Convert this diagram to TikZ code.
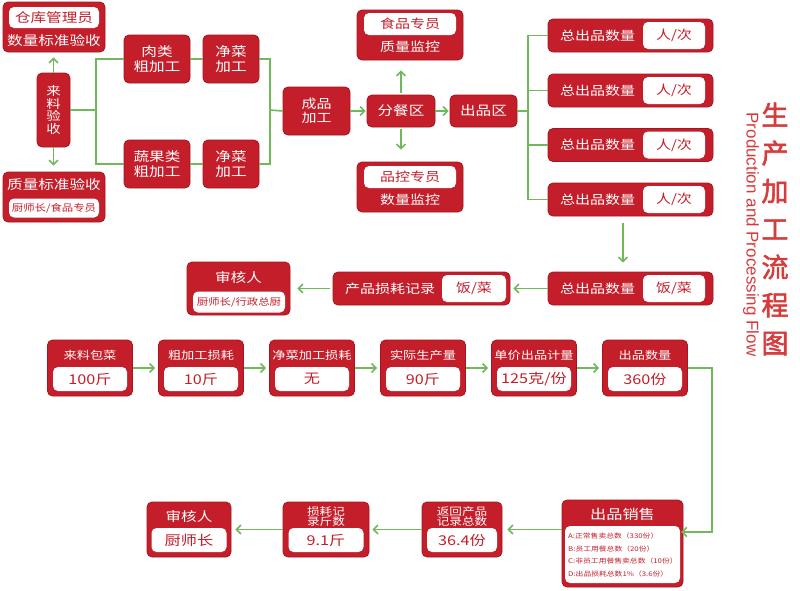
\documentclass[tikz,border=0pt]{standalone}
\usepackage{fontspec}
\newfontfamily\cjk[FakeStretch=1.2]{Noto Sans CJK SC}
\newfontfamily\cjkt[FakeBold=2]{Noto Sans CJK SC}
\newfontfamily\en{Liberation Sans}
\usetikzlibrary{arrows.meta}
\definecolor{myred}{RGB}{196,30,42}
\definecolor{edgered}{RGB}{165,22,32}
\definecolor{mygreen}{RGB}{112,184,92}
\definecolor{titlered}{RGB}{214,60,60}
\tikzset{
  rbox/.style={draw=edgered, line width=0.8pt, fill=myred, rounded corners=5pt, inner sep=0pt, text=white, align=center},
  wbox/.style={fill=white, rounded corners=5pt, inner sep=0pt, text=myred, align=center},
  lbl/.style={text=white, inner sep=0pt, align=center},
  fa/.style={font=\cjk\fontsize{13}{15}\selectfont},
  fb/.style={font=\cjk\fontsize{12.5}{14.5}\selectfont},
  fc/.style={font=\cjk\fontsize{11}{13}\selectfont},
  fv/.style={font=\cjk\fontsize{13.5}{16}\selectfont},
  fs/.style={font=\cjk\fontsize{9.5}{11}\selectfont},
  ft/.style={font=\cjk\fontsize{10.5}{10.5}\selectfont},
  fl/.style={font=\cjk\fontsize{6.5}{12.4}\selectfont},
  gl/.style={draw=mygreen, line width=1.6pt},
  ga/.style={gl, -{Straight Barb[length=4.5pt,width=9pt,line width=1.5pt]}},
}
\begin{document}
\begin{tikzpicture}[x=1pt,y=-1pt]
\useasboundingbox[fill=white] (0,0) rectangle (800,590);

% ---------- top-left block ----------
\node[rbox, minimum width=102pt, minimum height=50pt] (ck) at (54,27) {};
\node[wbox, fa, minimum width=90pt, minimum height=21pt] (ckw) at (54,17.5) {仓库管理员};
\node[lbl, fa] (ckt) at (54,41) {数量标准验收};

\node[rbox, font=\cjk\fontsize{12}{12.5}\selectfont, minimum width=33pt, minimum height=74pt] (ll) at (53.5,110) {来\\料\\验\\收};

\node[rbox, minimum width=102pt, minimum height=50pt] (zl) at (54,197) {};
\node[lbl, fa] (zlt) at (54,185) {质量标准验收};
\node[wbox, fs, minimum width=90pt, minimum height=19pt] (zlw) at (54,208) {厨师长/食品专员};

\draw[ga, shorten >=5pt] (ll.north) -- (ll.north |- ck.south);
\draw[ga, shorten >=6pt] (ll.south) -- (ll.south |- zl.north);

\node[rbox, fa, minimum width=66pt, minimum height=48pt] (rl) at (157,59) {肉类\\粗加工};
\node[rbox, fa, minimum width=56pt, minimum height=48pt] (jc1) at (231,59) {净菜\\加工};
\node[rbox, fa, minimum width=66pt, minimum height=48pt] (sg) at (157,164) {蔬果类\\粗加工};
\node[rbox, fa, minimum width=56pt, minimum height=48pt] (jc2) at (231,164) {净菜\\加工};

\coordinate (b1) at (96,110);
\draw[gl] (ll.east) -- (b1);
\draw[gl] (rl.west) -| (b1) |- (sg.west);
\draw[gl] (rl) -- (jc1);
\draw[gl] (sg) -- (jc2);
\coordinate (b2) at (270,110);
\draw[gl] (jc1.east) -| (b2) |- (jc2.east);

\node[rbox, fb, minimum width=67pt, minimum height=48pt] (cp) at (316.5,111) {成品\\加工};
\draw[gl] (b2) -- (cp.west);

\node[rbox, fa, minimum width=68pt, minimum height=32pt] (fcq) at (401,111) {分餐区};
\draw[ga, shorten >=1pt] (cp) -- (fcq);

\node[rbox, minimum width=106pt, minimum height=50pt] (q1) at (410,35) {};
\node[wbox, fb, minimum width=92pt, minimum height=22pt] (q1w) at (410,24) {食品专员};
\node[lbl, fb] (q1t) at (410,47) {质量监控};
\node[rbox, minimum width=106pt, minimum height=50pt] (q2) at (410,187) {};
\node[wbox, fb, minimum width=92pt, minimum height=22pt] (q2w) at (410,177) {品控专员};
\node[lbl, fb] (q2t) at (410,200) {数量监控};

\draw[ga, shorten >=10pt, shorten <=2pt] (fcq.north) -- (fcq.north |- q1.south);
\draw[ga, shorten >=12pt, shorten <=2pt] (fcq.south) -- (fcq.south |- q2.north);

\node[rbox, fa, minimum width=67pt, minimum height=32pt] (cpq) at (483.5,111) {出品区};
\draw[ga, shorten >=1pt] (fcq) -- (cpq);

% ---------- right column ----------
\coordinate (b3) at (528,111);
\draw[gl] (cpq.east) -- (b3);
\foreach \n/\y in {t1/35.5,t2/90.5,t3/145,t4/199.5}{
  \node[rbox, minimum width=165pt, minimum height=33pt] (\n) at (630.5,\y) {};
  \node[lbl, fb] (\n t) at (597.5,\y) {总出品数量};
  \node[wbox, fb, minimum width=62pt, minimum height=27pt] (\n w) at (674,\y) {人/次};
}
\draw[gl] (t1.west) -| (b3) |- (t4.west);
\draw[gl] (t2.west) -- (t2.west -| b3);
\draw[gl] (t3.west) -- (t3.west -| b3);

\node[rbox, minimum width=165pt, minimum height=33pt] (t5) at (630.5,288.5) {};
\node[lbl, fb] (t5t) at (597.5,288.5) {总出品数量};
\node[wbox, fb, minimum width=62pt, minimum height=27pt] (t5w) at (674,288.5) {饭/菜};
\draw[ga, shorten <=7pt, shorten >=9pt] ([xshift=-7.5pt]t4.south) -- ([xshift=-7.5pt]t5.north);

\node[rbox, minimum width=177pt, minimum height=33pt] (pl) at (421.5,288.5) {};
\node[lbl, fb] (plt) at (390,288.5) {产品损耗记录};
\node[wbox, fb, minimum width=64pt, minimum height=27pt] (plw) at (474,288.5) {饭/菜};
\draw[ga, shorten >=3pt] (t5.west) -- (pl.east);

\node[rbox, minimum width=103pt, minimum height=53pt] (sh) at (238.5,288.5) {};
\node[lbl, fa] (sht) at (238.5,278) {审核人};
\node[wbox, fs, minimum width=92pt, minimum height=21pt] (shw) at (239,302) {厨师长/行政总厨};
\draw[ga, shorten >=7pt, shorten <=3pt] (pl.west) -- (sh.east);

% ---------- row 2 ----------
\foreach \n/\x/\lab/\val in {r1/90/来料包菜/100斤, r2/201/粗加工损耗/10斤, r3/312/净菜加工损耗/无, r4/423/实际生产量/90斤, r5/534/单价出品计量/{125克/份}, r6/645/出品数量/360份}{
  \node[rbox, minimum width=85pt, minimum height=56pt] (\n) at (\x,368) {};
  \node[lbl, fc] (\n t) at (\x,355) {\lab};
  \node[wbox, fv, minimum width=74pt, minimum height=24pt] (\n w) at (\x,379) {\val};
}
\draw[ga, shorten >=3pt] (r1) -- (r2);
\draw[ga, shorten >=3pt] (r2) -- (r3);
\draw[ga, shorten >=3pt] (r3) -- (r4);
\draw[ga, shorten >=3pt] (r4) -- (r5);
\draw[ga, shorten >=3pt] (r5) -- (r6);

% ---------- row 3 ----------
\node[rbox, minimum width=121pt, minimum height=87pt] (sx) at (622.5,543.5) {};
\node[lbl, font=\cjk\fontsize{13.5}{15}\selectfont] (sxt) at (622.5,514) {出品销售};
\node[wbox, minimum width=115pt, minimum height=57pt] (sxw) at (622.5,554.5) {};
\node[anchor=west, inner sep=0pt, align=left, text=myred, fl] (sxl) at (568,555) {A:正常售卖总数（330份）\\B:员工用餐总数（20份）\\C:非员工用餐售卖总数（10份）\\D:出品损耗总数1\%（3.6份）};

\coordinate (b4) at (712,532);
\draw[ga, shorten >=1pt] (r6.east) -| (b4) -- (b4 -| sxw.east);

\node[rbox, minimum width=80pt, minimum height=55pt] (ra) at (462,529.5) {};
\node[lbl, ft] (rat) at (462,516.5) {返回产品\\记录总数};
\node[wbox, fv, minimum width=70pt, minimum height=24pt] (raw) at (462,540) {36.4份};

\node[rbox, minimum width=86pt, minimum height=55pt] (rb) at (326,529.5) {};
\node[lbl, ft] (rbt) at (326,516.5) {损耗记\\录斤数};
\node[wbox, fv, minimum width=75pt, minimum height=24pt] (rbw) at (326,540) {9.1斤};

\node[rbox, minimum width=84pt, minimum height=55pt] (rc) at (189,529.5) {};
\node[lbl, fa] (rct) at (189,516.5) {审核人};
\node[wbox, fv, minimum width=75pt, minimum height=24pt] (rcw) at (189,540) {厨师长};

\draw[ga, shorten >=5pt] (sx.west |- ra) -- (ra.east);
\draw[ga, shorten >=3pt] (ra) -- (rb);
\draw[ga, shorten >=4pt] (rb) -- (rc);

% ---------- title ----------
\node[text=titlered, inner sep=0pt, align=center, font=\cjkt\fontsize{27}{38}\selectfont] (title) at (775,229) {生\\产\\加\\工\\流\\程\\图};
\node[rotate=-90, text=titlered, inner sep=0pt, font=\en\fontsize{17}{17}\selectfont] (entitle) at (751,234.5) {Production and Processing Flow};
\end{tikzpicture}
\end{document}
